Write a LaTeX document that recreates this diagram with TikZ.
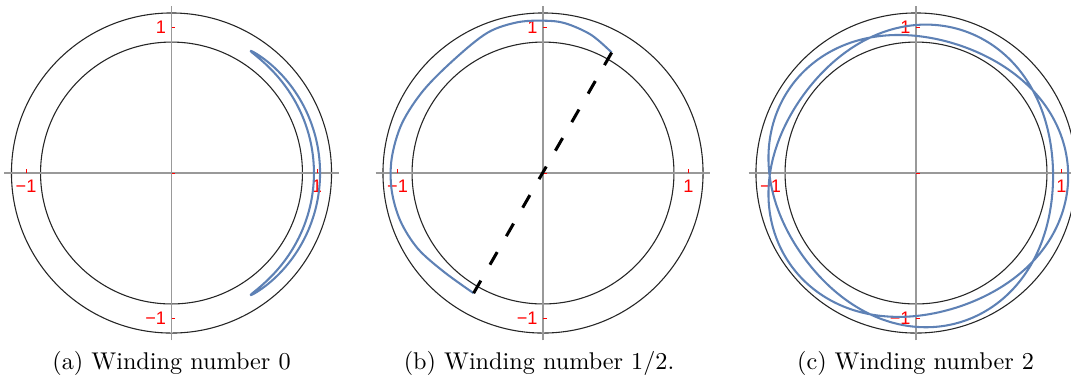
\documentclass[tikz,border=0pt]{standalone}
\usepackage{fontspec}
\newfontfamily\labfont{Liberation Sans}
\definecolor{curveblue}{RGB}{94,129,181}
\tikzset{
  ring/.style={draw=black!85, line width=0.45pt},
  axisline/.style={draw=black!40, line width=0.55pt},
  tickmark/.style={draw=red, line width=0.4pt},
  ticklabel/.style={text=red, font=\labfont\fontsize{7.5}{8}\selectfont, inner sep=0pt},
  windcurve/.style={draw=curveblue, line width=0.85pt, line join=round},
  cutline/.style={draw=black, line width=1.25pt, dash pattern=on 6pt off 7.575pt},
  captext/.style={font=\fontsize{10}{12}\selectfont, anchor=base, inner sep=0pt}
}
\newcommand\drawpanel[1]{%
  \draw[ring] (0,0) circle[radius=1.1];
  \draw[ring] (0,0) circle[radius=0.9];
  \coordinate (#1-xl) at (-1.15,0); \coordinate (#1-xr) at (1.15,0);
  \coordinate (#1-yb) at (0,-1.15); \coordinate (#1-yt) at (0,1.15);
  \draw[axisline] (#1-xl) -- (#1-xr);
  \draw[axisline] (#1-yb) -- (#1-yt);
  \foreach \v in {-1,1} {
    \draw[tickmark] (\v,0) -- ++(0,0.025);
    \draw[tickmark] (0,\v) -- ++(0.025,0);
  }
  \draw[tickmark] (0,0) -- (0.025,0);
  \node[ticklabel] (#1-lxm) at (-1,-0.088) {−1};
  \node[ticklabel] (#1-lxp) at (1,-0.088) {1};
  \node[ticklabel,anchor=east] (#1-lyp) at (-0.034,1.003) {1};
  \node[ticklabel,anchor=east] (#1-lym) at (-0.034,-1.0) {−1};
}
\begin{document}
\begin{tikzpicture}[x=0.413pt,y=-0.413pt]
\useasboundingbox (0,0) rectangle (1071,383);
% panel (a)
\begin{scope}[shift={(171.5,173)}, x=60.09pt, y=60.09pt]
  \drawpanel{a}
  \draw[windcurve] plot[domain=0:360, samples=181, smooth, variable=\t]
    ({(1+0.021*cos(\t))*cos(57*sin(\t))}, {(1+0.021*cos(\t))*sin(57*sin(\t))}) -- cycle;
\end{scope}
% panel (b)
\begin{scope}[shift={(543,173)}, x=60.09pt, y=60.09pt]
  \drawpanel{b}
  \coordinate (b-e1) at (0.472,0.828);
  \coordinate (b-e2) at (-0.477,-0.826);
  \draw[windcurve] plot[smooth, tension=0.55] coordinates {
    (0.472,0.828) (0.33,0.95) (0.15,1.03) (0,1.047) (-0.18,1.035) (-0.38,0.965)
    (-0.6,0.79) (-0.82,0.57) (-0.97,0.34) (-1.04,0.1) (-1.04,-0.12)
    (-0.98,-0.33) (-0.86,-0.52) (-0.68,-0.68) (-0.477,-0.826)};
  \draw[cutline] (b-e2) -- (b-e1);
\end{scope}
% panel (c)
\begin{scope}[shift={(916,173)}, x=60.09pt, y=60.09pt]
  \drawpanel{c}
  \draw[windcurve] plot[domain=0:720, samples=361, smooth, variable=\t]
    ({-0.006+(1-0.052*cos(2.5*\t))*cos(\t)}, {-0.02+(1-0.052*cos(2.5*\t))*sin(\t)}) -- cycle;
\end{scope}
% captions
\node[captext] (capa) at (171.5,369) {(a) Winding number 0};
\node[captext] (capb) at (539,369) {(b) Winding number 1/2.};
\node[captext] (capc) at (915.5,369) {(c) Winding number 2};
\end{tikzpicture}
\end{document}
